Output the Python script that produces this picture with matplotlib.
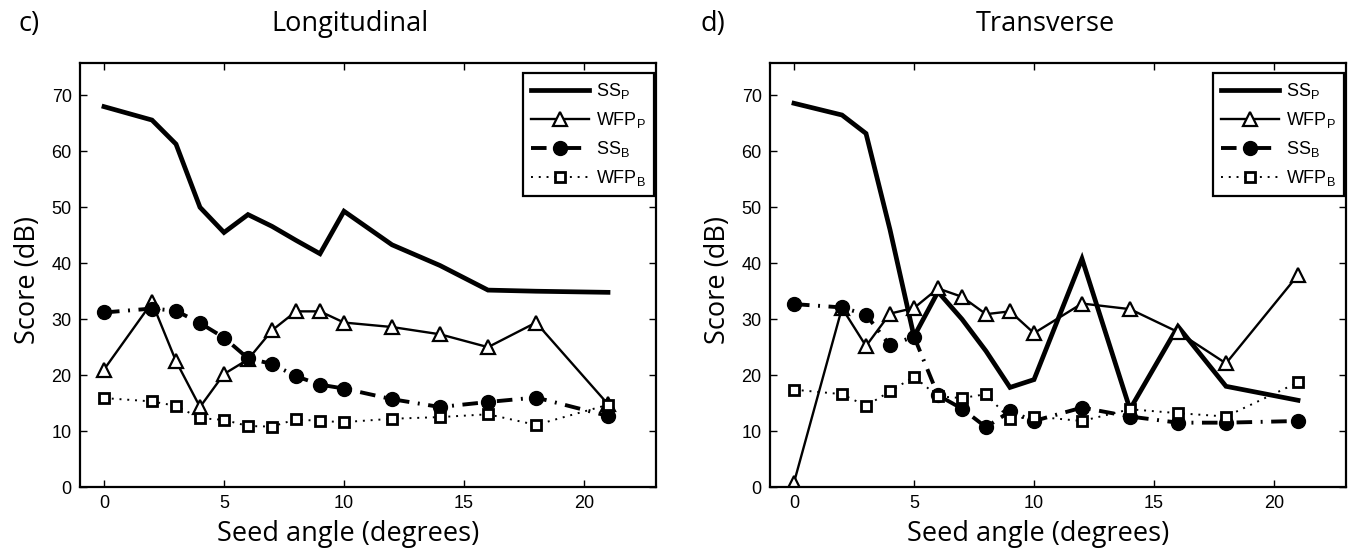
import matplotlib
matplotlib.use("Agg")
import matplotlib.pyplot as plt

plt.rcParams["font.family"] = ["Liberation Sans", "DejaVu Sans"]
plt.rcParams["mathtext.fontset"] = "custom"
plt.rcParams["mathtext.rm"] = "Liberation Sans"
plt.rcParams["mathtext.it"] = "Liberation Sans"

# seed angles (degrees)
angles = [0, 2, 3, 4, 5, 6, 7, 8, 9, 10, 12, 14, 16, 18, 21]

# Longitudinal
ssp_long = [68.0, 65.6, 61.3, 50.0, 45.5, 48.7, 46.6, 44.1, 41.7, 49.3, 43.3, 39.6, 35.2, 35.0, 34.8]
wfpp_long = [21.0, 33.0, 22.5, 14.3, 20.2, 22.8, 28.0, 31.4, 31.4, 29.4, 28.6, 27.3, 25.0, 29.4, 14.8]
ssb_long = [31.2, 31.9, 31.5, 29.3, 26.7, 23.0, 22.0, 19.8, 18.3, 17.6, 15.7, 14.3, 15.2, 16.0, 12.7]
wfpb_long = [15.9, 15.3, 14.5, 12.3, 12.0, 10.9, 10.8, 12.1, 11.8, 11.6, 12.2, 12.5, 13.0, 11.1, 14.7]

# Transverse
ssp_trans = [68.6, 66.5, 63.2, 46.0, 26.9, 34.9, 30.0, 24.3, 17.8, 19.2, 40.8, 13.9, 28.7, 18.0, 15.5]
wfpp_trans = [0.8, 32.0, 25.2, 31.0, 32.0, 35.5, 34.0, 30.9, 31.4, 27.5, 32.8, 31.8, 27.7, 22.1, 37.9]
ssb_trans = [32.7, 32.1, 30.8, 25.3, 26.9, 16.4, 14.0, 10.7, 13.5, 11.8, 14.2, 12.6, 11.5, 11.5, 11.8]
wfpb_trans = [17.4, 16.6, 14.5, 17.1, 19.7, 16.2, 15.9, 16.6, 12.1, 12.6, 11.8, 13.9, 13.2, 12.6, 18.7]

labels = [r"SS$_\mathrm{P}$", r"WFP$_\mathrm{P}$", r"SS$_\mathrm{B}$", r"WFP$_\mathrm{B}$"]

W, H = 1353, 551
fig = plt.figure(figsize=(W / 100, H / 100), dpi=100)

label_font = ["Open Sans", "DejaVu Sans"]


def draw_panel(ax, ssp, wfpp, ssb, wfpb):
    ax.plot(angles, ssp, color="k", lw=3.4, solid_joinstyle="miter", label=labels[0])
    ax.plot(angles, wfpp, color="k", lw=1.7, marker="^", ms=10, mfc="white",
            mec="k", mew=1.6, label=labels[1])
    ax.plot(angles, ssb, color="k", lw=2.8, linestyle=(0, (4, 2.2, 0.5, 2.2)),
            marker="o", ms=10, mfc="k", mec="k", label=labels[2])
    ax.plot(angles, wfpb, color="k", lw=1.4, linestyle=(0, (1, 3)),
            marker="s", ms=6.5, mfc="white", mec="k", mew=2.0, label=labels[3])
    ax.set_xlim(-1, 23)
    ax.set_ylim(0, 75.8)
    ax.set_xticks([0, 5, 10, 15, 20])
    ax.set_yticks(range(0, 80, 10))
    ax.tick_params(direction="in", top=True, right=True, length=5, width=1,
                   labelsize=13, pad=6)
    for s in ax.spines.values():
        s.set_linewidth(1.6)
    leg = ax.legend(loc="upper right", bbox_to_anchor=(1 - 2 / 576, 1 - 10 / 424),
                    borderaxespad=0, fontsize=13, handlelength=3.2,
                    fancybox=False, edgecolor="k", framealpha=1,
                    labelspacing=0.5, handletextpad=0.4, borderpad=0.45)
    leg.get_frame().set_linewidth(1.6)
    ax.set_xlabel("Seed angle (degrees)", family=label_font, fontsize=19.5)
    ax.xaxis.set_label_coords(0.465, -0.079)


ax1 = fig.add_axes([80 / W, 1 - 487 / H, 576 / W, 424 / H])
draw_panel(ax1, ssp_long, wfpp_long, ssb_long, wfpb_long)

ax2 = fig.add_axes([770 / W, 1 - 487 / H, 576 / W, 424 / H])
draw_panel(ax2, ssp_trans, wfpp_trans, ssb_trans, wfpb_trans)

for x in (28, 718):
    fig.text(x / W, 1 - 280 / H, "Score (dB)", rotation=90, ha="center",
             va="center", family=label_font, fontsize=19.5)

fig.text(18 / W, 1 - 24 / H, "c)", ha="left", va="center", family=label_font, fontsize=19.5)
fig.text(350 / W, 1 - 24 / H, "Longitudinal", ha="center", va="center",
         family=label_font, fontsize=19.5)
fig.text(700 / W, 1 - 24 / H, "d)", ha="left", va="center", family=label_font, fontsize=19.5)
fig.text(1045 / W, 1 - 24 / H, "Transverse", ha="center", va="center",
         family=label_font, fontsize=19.5)

fig.savefig("out.png", dpi=100)
